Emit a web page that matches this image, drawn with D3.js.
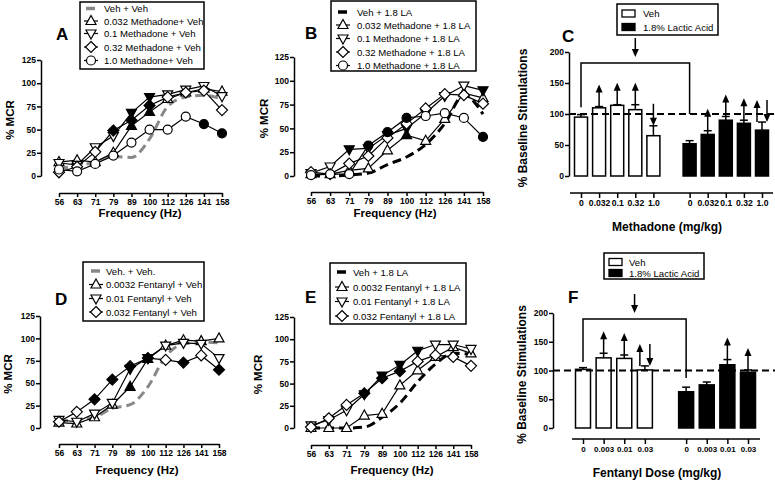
<!DOCTYPE html>
<html>
<head>
<meta charset="utf-8">
<script src="https://cdn.jsdelivr.net/npm/d3@7"></script>
<style>
body { margin:0; background:#fff; }
text { font-family: "Liberation Sans", Arial, Helvetica, sans-serif; }
</style>
</head>
<body>
<script>
//declare data
var freqs = ["56","63","71","79","89","100","112","126","141","158"];

//panel A: methadone + vehicle (% MCR)
var aVeh   = [8, 11, 15, 21, 20, 40, 75, 85, 87, 83];
var aM0032 = [15, 17, 15, 25, 54, 69, 83, 90, 94, 91];
var aM01   = [14, 12, 31, 43, 68, 85, 88, 93, 97, 86];
var aM032  = [4, 10, 26, 49, 60, 76, 85, 90, 92, 71];
var aM10   = [7, 5, 13, 22, 36, 50, 50, 64, 56, 46];
//1 = filled symbol (significant)
var aM0032Sig = [0,0,0,0,1,1,0,0,0,0];
var aM01Sig   = [0,0,0,0,1,1,0,0,0,0];
var aM032Sig  = [0,0,0,1,1,1,0,0,0,0];
var aM10Sig   = [0,0,0,0,0,0,0,0,1,1];

//panel B: methadone + 1.8 LA
var bVeh   = [0, 0, 1, 3, 12, 20, 33, 55, 85, 65];
var bM0032 = [2, 2, 6, 8, 27, 43, 37, 60, 87, 82];
var bM01   = [3, 10, 28, 29, 43, 50, 66, 84, 95, 90];
var bM032  = [4, 2, 13, 21, 40, 55, 71, 86, 85, 76];
var bM10   = [1, 2, 2, 32, 46, 61, 63, 66, 61, 41];
var bM0032Sig = [0,0,0,0,0,1,0,0,0,0];
var bM01Sig   = [0,0,1,0,0,1,1,0,0,1];
var bM032Sig  = [0,0,0,0,0,0,0,0,0,0];
var bM10Sig   = [0,0,0,1,1,1,0,0,0,1];

//panel D: fentanyl + vehicle
var dVeh    = [8, 9, 12, 22, 26, 46, 80, 94, 96, 95];
var dF00032 = [6, 5, 12, 26, 46, 77, 92, 98, 97, 100];
var dF001   = [9, 7, 16, 28, 66, 78, 92, 95, 94, 78];
var dF0032  = [7, 18, 32, 54, 69, 78, 76, 73, 81, 65];
var dF00032Sig = [0,0,0,0,1,1,0,0,0,0];
var dF001Sig   = [0,0,0,0,1,1,0,0,0,0];
var dF0032Sig  = [0,0,1,1,1,1,0,1,0,1];

//panel E: fentanyl + 1.8 LA
var eVeh    = [0, 0, 0, 1, 12, 28, 52, 72, 84, 83];
var eF00032 = [0, 0, 0, 14, 16, 48, 65, 80, 91, 84];
var eF001   = [3, 9, 20, 38, 59, 71, 87, 94, 94, 89];
var eF0032  = [1, 11, 26, 39, 56, 64, 75, 82, 80, 70];
var eF00032Sig = [0,0,0,0,0,0,0,0,0,0];
var eF001Sig   = [0,0,0,1,1,1,1,0,0,0];
var eF0032Sig  = [0,0,0,1,1,1,0,0,0,0];

//panel C: % baseline stimulations, methadone
var cDoses   = ["0","0.032","0.1","0.32","1.0"];
var cVehMean = [95, 110, 114, 107, 65];
var cVehSem  = [4, 2, 1, 8, 16];
var cLaMean  = [52, 67, 90, 85, 74];
var cLaSem   = [5, 6, 6, 5, 13];
var cVehArrows = ["", "up", "up", "up", "down"];
var cLaArrows  = ["", "up", "up", "up", "both"];
var cBracket   = [111, 100];

//panel F: % baseline stimulations, fentanyl
var fDoses   = ["0","0.003","0.01","0.03"];
var fVehMean = [102, 122, 121, 101];
var fVehSem  = [3, 8, 6, 7];
var fLaMean  = [63, 75, 110, 97];
var fLaSem   = [8, 5, 9, 4];
var fVehArrows = ["", "up", "up", "both"];
var fLaArrows  = ["", "", "up", "up"];
var fBracket   = [115, 87];

var mcrTicks = [0, 25, 50, 75, 100, 125];
var stimTicks = [0, 50, 100, 150, 200];

//create svg
var svg = d3.select("body").append("svg")
            .attr("width", 775)
            .attr("height", 482);

//shared axis look
function styleAxis(sel, size) {
    sel.select(".domain").attr("stroke", "#000").attr("stroke-width", 1.5);
    sel.selectAll(".tick line").attr("stroke", "#000").attr("stroke-width", 1.5);
    sel.selectAll(".tick text").attr("fill", "#000")
        .style("font-size", (size || 8.5) + "px").style("font-weight", "bold");
}

function label(g, txt, x, y, size, weight, anchor, rotate) {
    var t = g.append("text").attr("x", x).attr("y", y)
        .attr("text-anchor", anchor || "start")
        .style("font-size", size + "px").style("font-weight", weight || "normal")
        .text(txt);
    if (rotate) t.attr("transform", "rotate(-90," + x + "," + y + ")");
    return t;
}

//draw one symbol
function marker(g, shape, x, y, filled) {
    var fill = filled ? "#000" : "#fff";
    var pts;
    if (shape == "circle") {
        g.append("circle").attr("cx", x).attr("cy", y).attr("r", 4.5)
            .attr("fill", fill).attr("stroke", "#000").attr("stroke-width", 1.2);
        return;
    }
    if (shape == "up") pts = [[x, y - 5.5], [x + 5, y + 3.5], [x - 5, y + 3.5]];
    if (shape == "down") pts = [[x, y + 5.5], [x + 5, y - 3.5], [x - 5, y - 3.5]];
    if (shape == "diamond") pts = [[x, y - 5.5], [x + 5.5, y], [x, y + 5.5], [x - 5.5, y]];
    g.append("path").attr("d", d3.line()(pts) + "Z")
        .attr("fill", fill).attr("stroke", "#000").attr("stroke-width", 1.2);
}

//frequency-response panels
function linePanel(p) {
    var g = svg.append("g");
    var x = d3.scalePoint().domain(freqs).range([p.xFirst, p.xLast]);
    var y = d3.scaleLinear().domain([0, 125]).range([p.y0, p.y125]);

    g.append("g").attr("transform", "translate(" + p.axX + ",0)")
        .call(d3.axisLeft(y).tickValues(mcrTicks).tickSize(4).tickPadding(1).tickSizeOuter(0))
        .call(styleAxis);
    g.append("g").attr("transform", "translate(0," + p.xAxisY + ")")
        .call(d3.axisBottom(x).tickSize(4).tickPadding(2).tickSizeOuter(0))
        .call(styleAxis);

    label(g, "% MCR", p.yTitleX, (p.y0 + p.y125) / 2 + 2, 11.5, "bold", "middle", true);
    label(g, "Frequency (Hz)", p.titleX, p.titleY, 11.5, "bold", "middle");
    label(g, p.letter, p.lx, p.ly, 17, "bold");

    //vehicle curve, dashed
    var vehLine = d3.line()
        .x(function(d, i) { return x(freqs[i]); })
        .y(function(d) { return y(d); })
        .curve(d3.curveMonotoneX);
    g.append("path").attr("d", vehLine(p.veh))
        .attr("fill", "none").attr("stroke", p.vehColor)
        .attr("stroke-width", 3).attr("stroke-dasharray", "9,5");

    var line = d3.line()
        .x(function(d, i) { return x(freqs[i]); })
        .y(function(d) { return y(d); });
    p.series.forEach(function(s) {
        g.append("path").attr("d", line(s.v))
            .attr("fill", "none").attr("stroke", "#000").attr("stroke-width", 1.2);
    });
    p.series.forEach(function(s) {
        s.v.forEach(function(d, i) {
            marker(g, s.shape, x(freqs[i]), y(d), s.sig[i] == 1);
        });
    });

    //legend
    var L = p.legend;
    g.append("rect").attr("x", L.x).attr("y", L.y).attr("width", L.w).attr("height", L.h)
        .attr("fill", "#fff").attr("stroke", "#000").attr("stroke-width", 1.5);
    g.append("line").attr("x1", L.sx - 5).attr("x2", L.sx + 4)
        .attr("y1", L.rows[0]).attr("y2", L.rows[0])
        .attr("stroke", p.vehColor).attr("stroke-width", 3.5);
    label(g, p.vehName, L.tx, L.rows[0] + 3.5, 9.6);
    p.series.forEach(function(s, i) {
        var cy = L.rows[i + 1];
        g.append("line").attr("x1", L.sx - 7).attr("x2", L.sx + 7)
            .attr("y1", cy).attr("y2", cy).attr("stroke", "#000").attr("stroke-width", 1.2);
        marker(g, s.shape, L.sx, cy, false);
        label(g, s.name, L.tx, cy + 3.5, 9.6);
    });
}

function arrow(g, x, tail, tip) {
    var dir = tip < tail ? -1 : 1;
    g.append("line").attr("x1", x).attr("x2", x)
        .attr("y1", tail).attr("y2", tip - dir * 6)
        .attr("stroke", "#000").attr("stroke-width", 1.5);
    g.append("path")
        .attr("d", d3.line()([[x, tip], [x - 3.5, tip - dir * 8], [x + 3.5, tip - dir * 8]]) + "Z")
        .attr("fill", "#000");
}

//baseline stimulation bar panels
function barPanel(p) {
    var g = svg.append("g");
    var vKeys = p.vehMean.map(function(d, i) { return "v" + i; });
    var lKeys = p.laMean.map(function(d, i) { return "l" + i; });
    var x = d3.scalePoint().domain(vKeys.concat(["gap"]).concat(lKeys)).range([p.xFirst, p.xLast]);
    var y = d3.scaleLinear().domain([0, 200]).range([p.y0, p.y200]);

    g.append("g").attr("transform", "translate(" + p.axX + ",0)")
        .call(d3.axisLeft(y).tickValues(stimTicks).tickSize(4).tickPadding(1).tickSizeOuter(0))
        .call(styleAxis);
    var xa = g.append("g").attr("transform", "translate(0," + p.xAxisY + ")")
        .call(d3.axisBottom(x).tickValues(vKeys.concat(lKeys)).tickSize(5).tickPadding(2)
            .tickFormat(function(k) { return p.doses[+k.slice(1)]; }))
        .call(styleAxis, p.tickFont);
    xa.select(".domain").attr("d", "M" + p.lineX[0] + ",0H" + p.lineX[1]);

    label(g, "% Baseline Stimulations", p.yTitleX, (p.y0 + p.y200) / 2 + 4, 12, "bold", "middle", true);
    label(g, p.title, p.titleX, p.titleY, 12, "bold", "middle");
    label(g, p.letter, p.lx, p.ly, 17, "bold");

    var groups = [
        {keys: vKeys, mean: p.vehMean, sem: p.vehSem, fill: "#fff", arrows: p.vehArrows},
        {keys: lKeys, mean: p.laMean, sem: p.laSem, fill: "#000", arrows: p.laArrows}
    ];
    groups.forEach(function(grp) {
        grp.mean.forEach(function(m, i) {
            var cx = x(grp.keys[i]);
            var top = y(m + grp.sem[i]);
            g.append("line").attr("x1", cx).attr("x2", cx).attr("y1", y(m)).attr("y2", top)
                .attr("stroke", "#000").attr("stroke-width", 1.5);
            g.append("line").attr("x1", cx - 4).attr("x2", cx + 4).attr("y1", top).attr("y2", top)
                .attr("stroke", "#000").attr("stroke-width", 1.5);
            g.append("rect").attr("x", cx - p.bw / 2).attr("y", y(m))
                .attr("width", p.bw).attr("height", p.y0 - y(m))
                .attr("fill", grp.fill).attr("stroke", "#000").attr("stroke-width", 1.5);
            var a = grp.arrows[i];
            if (a == "up") arrow(g, cx, top, top - 22);
            if (a == "down") arrow(g, cx, top - 22, top);
            if (a == "both") {
                arrow(g, cx - 5, top, top - 22);
                arrow(g, cx + 5, top - 22, top);
            }
        });
    });

    //dashed 100% line
    g.append("line").attr("x1", p.axX).attr("x2", 775).attr("y1", y(100)).attr("y2", y(100))
        .attr("stroke", "#000").attr("stroke-width", 1.8).attr("stroke-dasharray", "7,4");

    //bracket comparing vehicle 0 vs LA 0
    var bx0 = x("v0"), bx1 = x("l0");
    g.append("path")
        .attr("d", "M" + bx0 + "," + y(p.bracket[0]) + "V" + p.bracketY + "H" + bx1 + "V" + y(p.bracket[1]))
        .attr("fill", "none").attr("stroke", "#000").attr("stroke-width", 1.5);
    arrow(g, (bx0 + bx1) / 2, p.bracketY - 25, p.bracketY - 6);

    //legend
    var L = p.legend;
    g.append("rect").attr("x", L.x).attr("y", L.y).attr("width", L.w).attr("height", L.h)
        .attr("fill", "#fff").attr("stroke", "#000").attr("stroke-width", 1.5);
    [["#fff", "Veh"], ["#000", "1.8% Lactic Acid"]].forEach(function(r, i) {
        g.append("rect").attr("x", L.sx).attr("y", L.rows[i] - 3.5).attr("width", 13).attr("height", 7)
            .attr("fill", r[0]).attr("stroke", "#000").attr("stroke-width", 1.3);
        label(g, r[1], L.tx, L.rows[i] + 3.5, 9.6);
    });
}

linePanel({
    letter: "A", lx: 56, ly: 40, axX: 41, y0: 176, y125: 60, xAxisY: 193,
    xFirst: 59, xLast: 222, yTitleX: 14, titleX: 140, titleY: 217,
    veh: aVeh, vehColor: "#888", vehName: "Veh + Veh",
    series: [
        {v: aM0032, sig: aM0032Sig, shape: "up", name: "0.032 Methadone+ Veh"},
        {v: aM01, sig: aM01Sig, shape: "down", name: "0.1 Methadone + Veh"},
        {v: aM032, sig: aM032Sig, shape: "diamond", name: "0.32 Methadone + Veh"},
        {v: aM10, sig: aM10Sig, shape: "circle", name: "1.0 Methadone+ Veh"}
    ],
    legend: {x: 80, y: 2, w: 124, h: 67, rows: [8.5, 21, 33.5, 47, 60.5], sx: 91, tx: 104}
});

linePanel({
    letter: "B", lx: 305, ly: 39, axX: 294, y0: 176, y125: 57, xAxisY: 192,
    xFirst: 311, xLast: 483, yTitleX: 268, titleX: 395, titleY: 217,
    veh: bVeh, vehColor: "#000", vehName: "Veh + 1.8 LA",
    series: [
        {v: bM0032, sig: bM0032Sig, shape: "up", name: "0.032 Methadone + 1.8 LA"},
        {v: bM01, sig: bM01Sig, shape: "down", name: "0.1 Methadone + 1.8 LA"},
        {v: bM032, sig: bM032Sig, shape: "diamond", name: "0.32 Methadone + 1.8 LA"},
        {v: bM10, sig: bM10Sig, shape: "circle", name: "1.0 Methadone + 1.8 LA"}
    ],
    legend: {x: 331, y: 1, w: 145, h: 70, rows: [12, 25, 38.5, 52, 65.5], sx: 343, tx: 357}
});

linePanel({
    letter: "D", lx: 55, ly: 305, axX: 40, y0: 428, y125: 316, xAxisY: 444,
    xFirst: 59, xLast: 219, yTitleX: 12, titleX: 137, titleY: 474,
    veh: dVeh, vehColor: "#888", vehName: "Veh. + Veh.",
    series: [
        {v: dF00032, sig: dF00032Sig, shape: "up", name: "0.0032 Fentanyl + Veh"},
        {v: dF001, sig: dF001Sig, shape: "down", name: "0.01 Fentanyl + Veh"},
        {v: dF0032, sig: dF0032Sig, shape: "diamond", name: "0.032 Fentanyl + Veh"}
    ],
    legend: {x: 83, y: 262, w: 121, h: 59, rows: [271, 284.5, 298.5, 312], sx: 96, tx: 106}
});

linePanel({
    letter: "E", lx: 305, ly: 303, axX: 294, y0: 428, y125: 317, xAxisY: 445,
    xFirst: 311, xLast: 471, yTitleX: 262, titleX: 392, titleY: 474,
    veh: eVeh, vehColor: "#000", vehName: "Veh + 1.8 LA",
    series: [
        {v: eF00032, sig: eF00032Sig, shape: "up", name: "0.0032 Fentanyl + 1.8 LA"},
        {v: eF001, sig: eF001Sig, shape: "down", name: "0.01 Fentanyl + 1.8 LA"},
        {v: eF0032, sig: eF0032Sig, shape: "diamond", name: "0.032 Fentanyl + 1.8 LA"}
    ],
    legend: {x: 330, y: 263, w: 136, h: 61, rows: [272, 287, 301.5, 316], sx: 342, tx: 353}
});

barPanel({
    letter: "C", lx: 562, ly: 42, axX: 569, y0: 176, y200: 52, xAxisY: 193,
    xFirst: 581, xLast: 762, lineX: [570, 773], bw: 13, tickFont: 8.6,
    yTitleX: 527, titleX: 667, titleY: 231, title: "Methadone (mg/kg)",
    doses: cDoses, vehMean: cVehMean, vehSem: cVehSem, laMean: cLaMean, laSem: cLaSem,
    vehArrows: cVehArrows, laArrows: cLaArrows, bracket: cBracket, bracketY: 63,
    legend: {x: 617, y: 4, w: 101, h: 31, rows: [13.5, 27], sx: 622, tx: 643}
});

barPanel({
    letter: "F", lx: 568, ly: 303, axX: 553, y0: 428, y200: 313, xAxisY: 439,
    xFirst: 583, xLast: 748, lineX: [572, 760], bw: 15, tickFont: 8,
    yTitleX: 526, titleX: 657, titleY: 477, title: "Fentanyl Dose (mg/kg)",
    doses: fDoses, vehMean: fVehMean, vehSem: fVehSem, laMean: fLaMean, laSem: fLaSem,
    vehArrows: fVehArrows, laArrows: fLaArrows, bracket: fBracket, bracketY: 319,
    legend: {x: 604, y: 253, w: 100, h: 26, rows: [262, 273], sx: 609, tx: 629}
});
</script>
</body>
</html>
